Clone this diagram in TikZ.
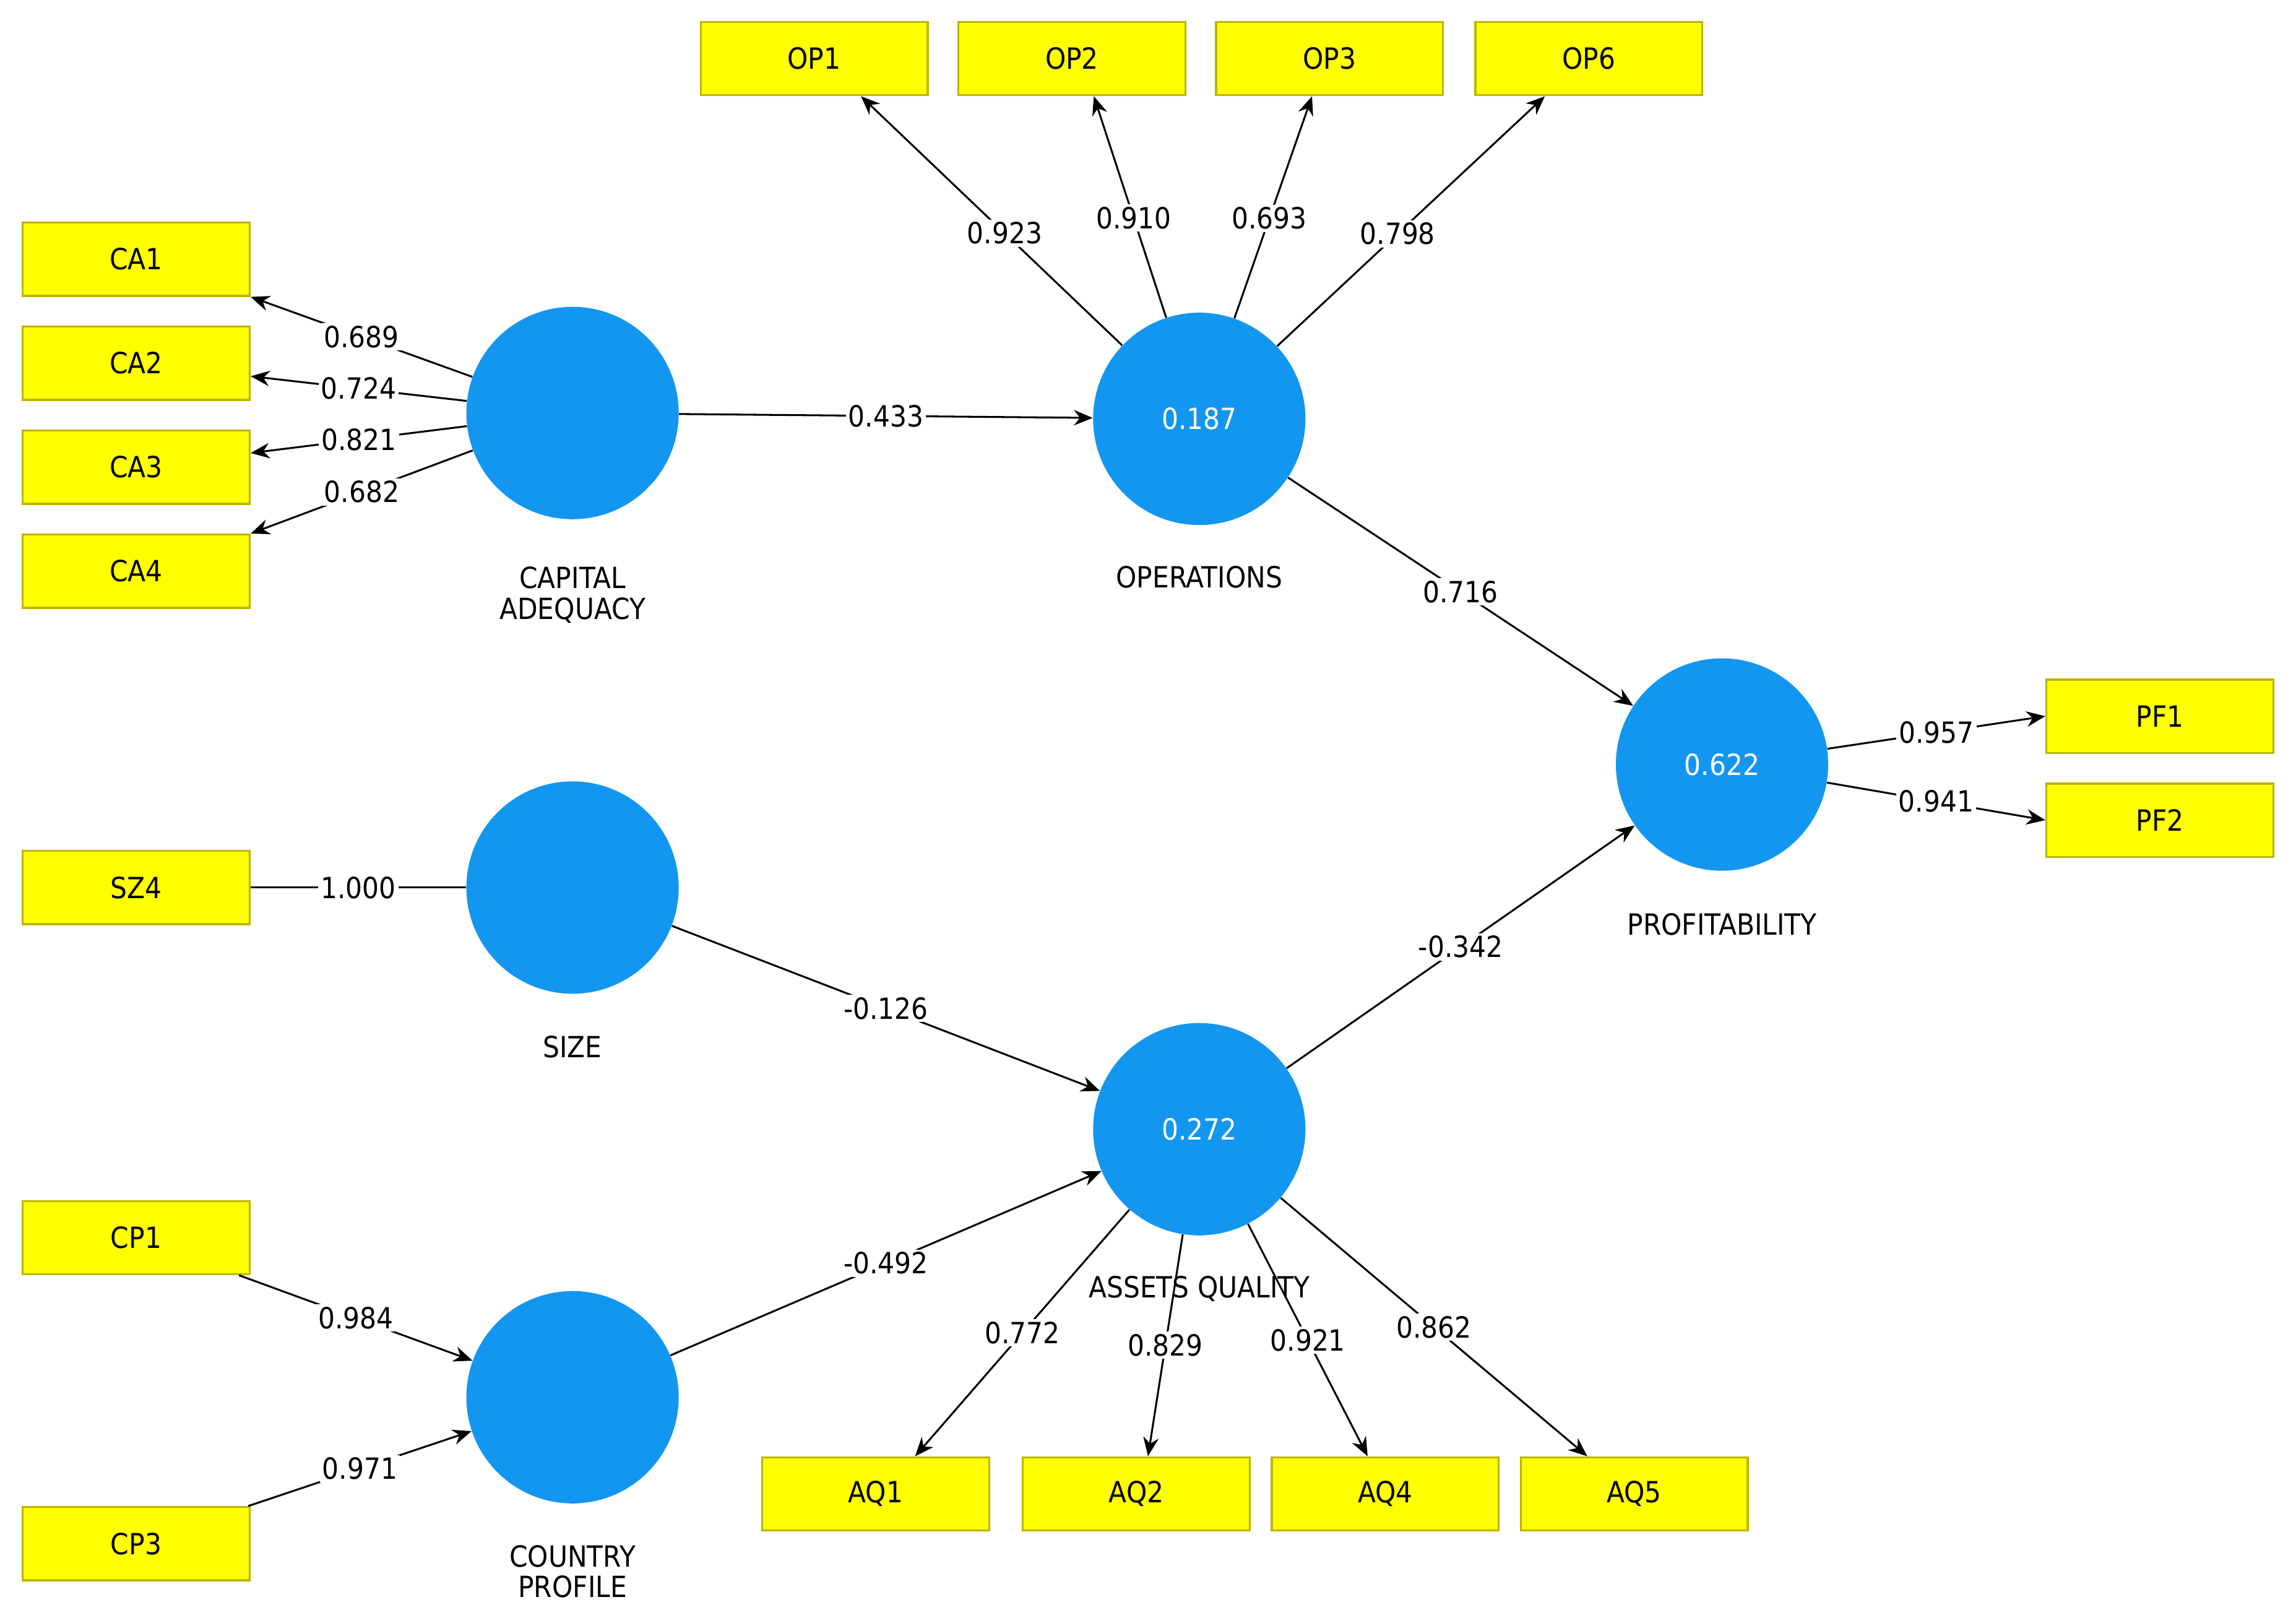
\documentclass[tikz,border=0pt]{standalone}
\usepackage{fontspec}
\setmainfont{DejaVu Sans Condensed}
\usetikzlibrary{arrows.meta}
\begin{document}
\begin{tikzpicture}[x=0.03cm,y=-0.03cm,
 ind/.style={draw={rgb,255:red,190;green,180;blue,0},line width=1.2pt,fill={rgb,255:red,255;green,255;blue,0},minimum width=155*0.03cm,minimum height=50*0.03cm,inner sep=0pt,font=\fontsize{17}{20}\selectfont},
 lv/.style={circle,fill={rgb,255:red,18;green,150;blue,240},minimum size=145*0.03cm,inner sep=0pt,text=white,font=\fontsize{17}{20}\selectfont},
 lab/.style={font=\fontsize{17}{20}\selectfont,align=center},
 e/.style={line width=1.1pt,-{Stealth[length=11pt,width=9pt]}},
 el/.style={fill=white,inner sep=1.5pt,font=\fontsize{17}{20}\selectfont}]
\useasboundingbox (0,0) rectangle (1568,1108);
\node[ind] (CA1) at (93,177) {CA1};
\node[ind] (CA2) at (93,248) {CA2};
\node[ind] (CA3) at (93,319) {CA3};
\node[ind] (CA4) at (93,390) {CA4};
\node[ind] (SZ4) at (93,606) {SZ4};
\node[ind] (CP1) at (93,845) {CP1};
\node[ind] (CP3) at (93,1054) {CP3};
\node[ind] (OP1) at (556,40) {OP1};
\node[ind] (OP2) at (732,40) {OP2};
\node[ind] (OP3) at (908,40) {OP3};
\node[ind] (OP6) at (1085,40) {OP6};
\node[ind] (PF1) at (1475,489) {PF1};
\node[ind] (PF2) at (1475,560) {PF2};
\node[ind] (AQ1) at (598,1020) {AQ1};
\node[ind] (AQ2) at (776,1020) {AQ2};
\node[ind] (AQ4) at (946,1020) {AQ4};
\node[ind] (AQ5) at (1116,1020) {AQ5};
\node[lv] (CA) at (391,282) {};
\node[lv] (OP) at (819,286) {0.187};
\node[lv] (SZ) at (391,606) {};
\node[lv] (AQ) at (819,771) {0.272};
\node[lv] (CP) at (391,954) {};
\node[lv] (PF) at (1176,522) {0.622};
\node[lab] (lCA) at (391,406) {CAPITAL\\[-2pt]ADEQUACY};
\node[lab] (lOP) at (819,394) {OPERATIONS};
\node[lab] (lSZ) at (391,715) {SIZE};
\node[lab] (lPF) at (1176,631) {PROFITABILITY};
\node[lab] (lCP) at (391,1073) {COUNTRY\\[-2pt]PROFILE};
\draw[e] (CA) -- node[el,pos=0.5]{0.689} (CA1.south east);
\draw[e] (CA) -- node[el,pos=0.5]{0.724} (CA2);
\draw[e] (CA) -- node[el,pos=0.5]{0.821} (CA3);
\draw[e] (CA) -- node[el,pos=0.5]{0.682} (CA4.north east);
\draw[line width=1.1pt] (SZ4) -- node[el]{1.000} (SZ);
\draw[e] (CP1) -- node[el]{0.984} (CP);
\draw[e] (CP3) -- node[el]{0.971} (CP);
\draw[e] (OP) -- node[el,pos=0.45]{0.923} ([xshift=32*0.03cm]OP1.south);
\draw[e] (OP) -- node[el,pos=0.45]{0.910} ([xshift=15*0.03cm]OP2.south);
\draw[e] (OP) -- node[el,pos=0.45]{0.693} ([xshift=-12*0.03cm]OP3.south);
\draw[e] (OP) -- node[el,pos=0.45]{0.798} ([xshift=-30*0.03cm]OP6.south);
\draw[e] (CA) -- node[el]{0.433} (OP);
\draw[e] (OP) -- node[el]{0.716} (PF);
\draw[e] (SZ) -- node[el]{-0.126} (AQ);
\draw[e] (CP) -- node[el]{-0.492} (AQ);
\draw[e] (AQ) -- node[el]{-0.342} (PF);
\draw[e] (PF) -- node[el]{0.957} (PF1.west);
\draw[e] (PF) -- node[el]{0.941} (PF2.west);
\node[lab] (lAQ) at (819,880) {ASSETS QUALITY};
\draw[e] (AQ) -- node[el,pos=0.5]{0.772} ([xshift=27*0.03cm]AQ1.north);
\draw[e] (AQ) -- node[el,pos=0.5]{0.829} ([xshift=8*0.03cm]AQ2.north);
\draw[e] (AQ) -- node[el,pos=0.5]{0.921} ([xshift=-12*0.03cm]AQ4.north);
\draw[e] (AQ) -- node[el,pos=0.5]{0.862} ([xshift=-32*0.03cm]AQ5.north);
\end{tikzpicture}
\end{document}
